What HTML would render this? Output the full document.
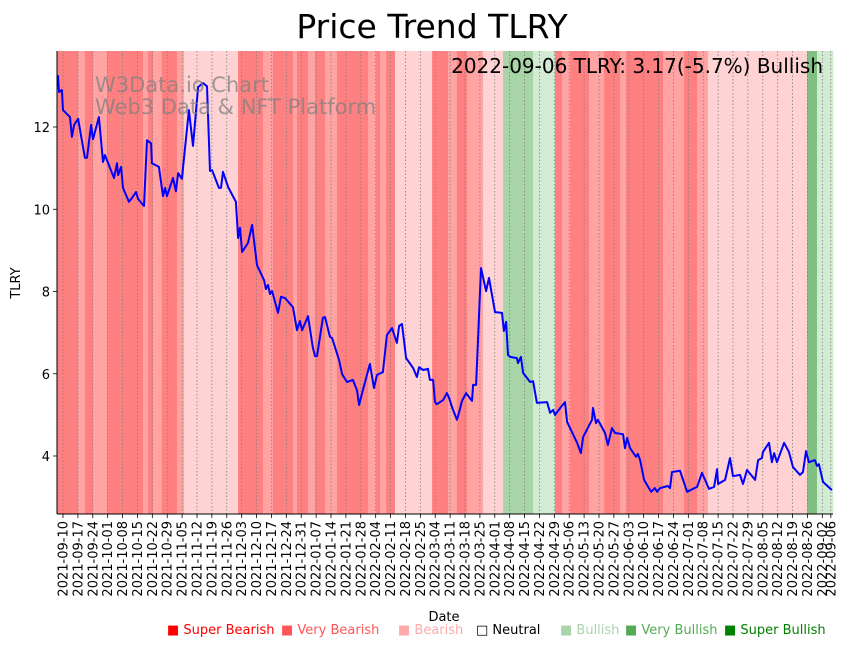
<!DOCTYPE html>
<html><head><meta charset="utf-8">
<style>
html,body{margin:0;padding:0;background:#fff;}
svg{display:block;font-family:"DejaVu Sans","Liberation Sans",sans-serif;}
</style></head>
<body>
<svg id="chart" width="851" height="646" viewBox="0 0 851 646" xmlns="http://www.w3.org/2000/svg">
<text x="432" y="38" text-anchor="middle" font-size="33">Price Trend TLRY</text>
<g id="bands"></g>
<g id="grid"></g>
<g id="series"></g>
<text x="95" y="92" font-size="21" fill="#808080" fill-opacity="0.75">W3Data.io Chart</text>
<text x="95" y="114" font-size="21" fill="#808080" fill-opacity="0.75">Web3 Data &amp; NFT Platform</text>
<text x="823" y="73" text-anchor="end" font-size="20">2022-09-06 TLRY: 3.17(-5.7%) Bullish</text>
<g id="axes"></g>
<text transform="translate(20,283) rotate(-90)" text-anchor="middle" font-size="13">TLRY</text>
<text x="444" y="621" text-anchor="middle" font-size="13">Date</text>
<g id="legend" font-size="13"></g>
</svg>
<script>
// ---- data ----
const startDate = "2021-09-10";
const bandStartDays = [-2.8,7.1,10.3,14.1,20.7,37.6,40,42.3,46.5,53.6,56.9,82.3,94,98.7,108.1,110,115.2,118.5,123.2,128.8,143.4,147.2,149,151.9,156.1,173.5,181,185.2,189.9,197.5,206.9,221,231.3,234.6,238.4,247.3,254.4,261.9,264.7,282.1,292,298.1,303.2,349.8,354.5];
const bandEndDay = 362;
const bandLevels = [-3,-2,-3,-2,-3,-2,-3,-2,-3,-2,-1,-3,-2,-3,-2,-3,-2,-3,-2,-3,-2,-3,-2,-3,-1,-3,-2,-3,-2,-1,2,1,-3,-2,-3,-2,-3,-2,-3,-2,-3,-2,-1,3,1];
const priceDays = [-2.4,-1.9,-0.5,0,3.3,4.2,5.2,7.1,10.3,11.3,13.2,14.1,16.9,18.8,19.7,24.0,25.4,25.9,27.3,28.2,31.0,32.4,34.3,35.3,38.1,39.5,41.4,41.8,45.1,47.0,48.0,48.9,51.7,53.1,54.1,55.9,59.2,61.1,63.5,65.8,67.7,69.1,70.1,73.3,74.3,75.2,77.6,81.3,82.3,83.2,84.2,87.0,88.9,91.2,94.5,95.4,96.4,97.3,98.3,101.1,102.5,104.4,108.1,110.0,111.4,112.4,115.2,117.5,118.5,119.4,122.2,123.2,125.5,126.5,129.8,131.2,133.5,136.3,138.2,139.2,140.6,144.3,146.2,147.6,150.4,152.3,154.7,157.0,158.0,159.4,161.3,164.6,166.4,167.4,169.3,171.6,172.5,174.0,174.9,175.8,178.7,180.5,181.5,182.9,185.2,186.2,187.6,189.5,192.3,192.8,194.2,196.5,198.9,200.3,203.1,206.4,207.3,208.3,209.2,210.2,213.4,213.9,215.3,216.3,219.6,221.0,222.8,227.6,229.0,230.4,231.3,234.1,236.0,237.0,241.7,243.5,244.5,248.7,249.2,250.6,251.5,254.8,256.2,258.1,259.5,263.3,264.2,265.2,266.6,269.4,270.3,271.3,273.2,276.5,278.3,279.3,280.7,284.4,285.4,286.3,290.1,293.4,298.1,300.4,303.7,306.1,307.5,308.0,311.3,313.6,315.0,318.3,319.7,321.6,325.4,326.8,328.6,329.1,331.9,333.3,334.3,335.7,339.0,341.3,343.2,346.5,347.9,349.3,350.7,353.5,354.5,355.4,357.3,361.5];
const prices = [13.26,12.85,12.9,12.41,12.24,11.76,12.05,12.2,11.25,11.25,12.05,11.7,12.24,11.15,11.32,10.76,11.12,10.83,11.03,10.52,10.18,10.27,10.42,10.25,10.08,11.68,11.6,11.12,11.03,10.32,10.52,10.32,10.76,10.44,10.88,10.74,12.41,11.54,12.97,13.07,12.99,10.93,10.95,10.52,10.52,10.91,10.54,10.18,9.3,9.55,8.96,9.18,9.62,8.64,8.28,8.06,8.16,7.94,8.01,7.48,7.87,7.84,7.62,7.06,7.28,7.06,7.4,6.63,6.43,6.43,7.36,7.38,6.9,6.87,6.33,5.99,5.8,5.85,5.6,5.24,5.53,6.24,5.65,5.97,6.04,6.94,7.11,6.75,7.16,7.21,6.38,6.14,5.92,6.16,6.09,6.12,5.85,5.85,5.31,5.26,5.36,5.53,5.41,5.19,4.88,5.05,5.34,5.53,5.34,5.73,5.73,8.57,8.01,8.33,7.5,7.48,7.04,7.26,6.46,6.41,6.38,6.26,6.41,6.02,5.8,5.82,5.29,5.31,5.05,5.12,5.0,5.19,5.31,4.83,4.32,4.07,4.46,4.88,5.17,4.8,4.88,4.56,4.27,4.68,4.56,4.53,4.19,4.44,4.19,3.98,4.05,3.9,3.42,3.13,3.22,3.13,3.22,3.27,3.22,3.61,3.64,3.13,3.25,3.59,3.2,3.25,3.68,3.32,3.42,3.95,3.51,3.54,3.32,3.66,3.42,3.9,3.95,4.1,4.32,3.85,4.07,3.85,4.32,4.1,3.73,3.54,3.61,4.12,3.85,3.9,3.76,3.8,3.37,3.17];
const yTicks = [4,6,8,10,12];
const legendLabels = ["Super Bearish","Very Bearish","Bearish","Neutral","Bullish","Very Bullish","Super Bullish"];
const legendLevels = [-3,-2,-1,0,1,2,3];

// ---- scales ----
const PL=57, PR=833, PT=51, PB=514;
const DAY0X=63, PXDAY=2.127;
const xScale = d => DAY0X + d*PXDAY;
const yScale = v => 456 - (v-4)*41.125;
const bandColor = {"-3":"#ff8080","-2":"#ffa3a3","-1":"#ffd3d3","0":"#ffffff","1":"#d3ebd3","2":"#a8d5a8","3":"#80c080"};
const legendColor = {"-3":"#ff0000","-2":"#ff5555","-1":"#ffaaaa","0":"#000000","1":"#aad5aa","2":"#55aa55","3":"#008000"};
const NS="http://www.w3.org/2000/svg";
function mk(tag, attrs, parent){const e=document.createElementNS(NS,tag);for(const k in attrs)e.setAttribute(k,attrs[k]);parent.appendChild(e);return e;}

// bands
const gb=document.getElementById('bands');
for(let i=0;i<bandStartDays.length;i++){
  const s=bandStartDays[i], e=(i+1<bandStartDays.length)?bandStartDays[i+1]:bandEndDay;
  const x1=Math.max(PL,xScale(s)), x2=Math.min(PR,xScale(e));
  if(x2<=x1) continue;
  const r=mk('rect',{x:x1,y:PT,width:x2-x1+0.3,height:PB-PT,fill:bandColor[String(bandLevels[i])]},gb);
  
  
}
// grid + x ticks
const gg=document.getElementById('grid');
const ga=document.getElementById('axes');
const base=new Date(startDate+"T00:00:00Z");
function fmt(d){const dt=new Date(base.getTime()+d*86400000);return dt.toISOString().slice(0,10);}
const tickDays=[];for(let d=0;d<=358;d+=7)tickDays.push(d);tickDays.push(361);
tickDays.forEach(d=>{
  const x=xScale(d);
  const l=mk('line',{x1:x,x2:x,y1:PT,y2:PB,stroke:'#808080','stroke-width':0.8,'stroke-dasharray':'1.5,2'},gg);
  
  
  const t=mk('line',{x1:x,x2:x,y1:PB,y2:PB+4,stroke:'#000','stroke-width':0.8},ga);
  
  
  const tx=mk('text',{transform:`translate(${x+4.5},${PB+7}) rotate(-90)`,'text-anchor':'end','font-size':13},ga);
  tx.textContent=fmt(d);
  
  
});
// y ticks
yTicks.forEach(v=>{
  const y=yScale(v);
  const t=mk('line',{x1:PL-4,x2:PL,y1:y,y2:y,stroke:'#000','stroke-width':0.8},ga);
  
  
  const tx=mk('text',{x:PL-7,y:y+5,'text-anchor':'end','font-size':13},ga);
  tx.textContent=String(v);
  
  
});
const sl=mk('line',{x1:PL,x2:PL,y1:PT,y2:PB,stroke:'#000','stroke-width':1},ga);


const sb=mk('line',{x1:PL,x2:PR,y1:PB,y2:PB,stroke:'#000','stroke-width':1},ga);


// price line
const pts=priceDays.map((d,i)=>Math.max(PL,xScale(d)).toFixed(1)+','+yScale(prices[i]).toFixed(1)).join(' ');
const pl=mk('polyline',{points:pts,fill:'none',stroke:'#0000ff','stroke-width':2,'stroke-linejoin':'round'},document.getElementById('series'));


// legend
const gl=document.getElementById('legend');
const legX=[167,281,398,476,560,625,724];
legendLabels.forEach((lab,i)=>{
  const lv=String(legendLevels[i]);
  const t=mk('text',{x:legX[i],y:634,fill:legendColor[lv]},gl);
  t.textContent=(lv==="0"?"\u25A1 ":"\u25A0 ")+lab;
  
  
});
</script>
</body></html>
